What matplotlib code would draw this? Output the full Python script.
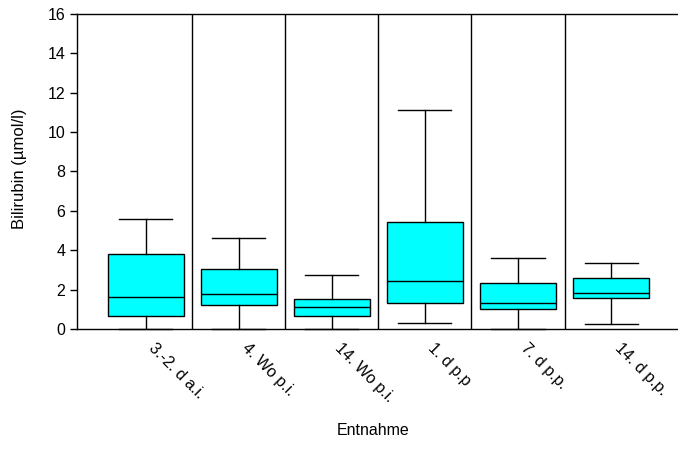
import matplotlib.pyplot as plt
import matplotlib.transforms as mtransforms

plt.rcParams['font.family'] = ['Liberation Sans', 'DejaVu Sans']

groups = ['3.-2. d a.i.', '4. Wo p.i.', '14. Wo p.i.', '1. d p.p', '7. d p.p.', '14. d p.p.']
whis_lo = [0.0, 0.0, 0.0, 0.3, 0.0, 0.25]
q1 = [0.65, 1.24, 0.64, 1.33, 1.02, 1.55]
median = [1.6, 1.78, 1.09, 2.44, 1.33, 1.85]
q3 = [3.8, 3.06, 1.53, 5.42, 2.34, 2.6]
whis_hi = [5.6, 4.6, 2.76, 11.14, 3.6, 3.36]

stats = [dict(label=g, whislo=lo, q1=a, med=m, q3=b, whishi=hi, fliers=[])
         for g, lo, a, m, b, hi in zip(groups, whis_lo, q1, median, q3, whis_hi)]

fig = plt.figure(figsize=(6.78, 4.5), dpi=100)
ax = fig.add_axes([0.1136, 0.269, 0.8864, 0.7])

ax.bxp(stats, positions=range(len(groups)), widths=0.82, patch_artist=True,
       showfliers=False,
       boxprops=dict(facecolor='#00ffff', edgecolor='black', linewidth=1),
       medianprops=dict(color='black', linewidth=1),
       whiskerprops=dict(color='black', linewidth=1),
       capprops=dict(color='black', linewidth=1, clip_on=False),
       capwidths=0.57)

for i in range(len(groups) - 1):
    ax.axvline(i + 0.5, color='black', linewidth=1)

ax.set_xlim(-0.74, 5.72)
ax.set_ylim(0, 16)
ax.set_yticks(range(0, 17, 2))
ax.tick_params(axis='y', direction='out', length=5, width=1, labelsize=11.5)
ax.tick_params(axis='x', length=0, pad=6)
ax.set_xticks(range(len(groups)))
ax.set_xticklabels(groups, rotation=-45, ha='left', va='top',
                   rotation_mode='anchor', fontsize=11.5)
shift = mtransforms.ScaledTranslation(8 / 72, -2 / 72, fig.dpi_scale_trans)
for lbl in ax.get_xticklabels():
    lbl.set_transform(lbl.get_transform() + shift)

ax.spines['right'].set_visible(False)
for s in ['left', 'bottom', 'top']:
    ax.spines[s].set_linewidth(1)

ax.set_ylabel('Bilirubin (µmol/l)', fontsize=12)
ax.yaxis.set_label_coords(-0.083, 0.51)
fig.text(0.55, 0.027, 'Entnahme', ha='center', va='bottom', fontsize=11.5)

fig.savefig('out.png', dpi=100)
